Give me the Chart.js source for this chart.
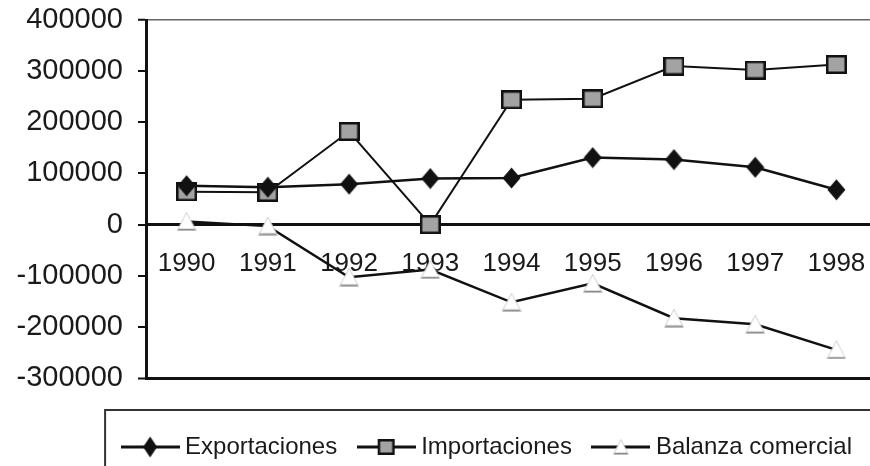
<!DOCTYPE html>
<html>
<head>
<meta charset="utf-8">
<script src="https://cdn.jsdelivr.net/npm/chart.js@4.4.1/dist/chart.umd.min.js"></script>
<style>
  html, body { margin: 0; padding: 0; background: #fff; overflow: hidden; width: 870px; height: 466px; }
  #wrap { position: absolute; left: 0; top: 0; width: 890px; height: 469px; }
</style>
</head>
<body>
<div id="wrap"><canvas id="c" width="890" height="469"></canvas></div>
<script>
// ---- data ----
const years = ['1990', '1991', '1992', '1993', '1994', '1995', '1996', '1997', '1998'];
const exportaciones = [76000, 73000, 79000, 90000, 91000, 131000, 127000, 112000, 68000];
const importaciones = [64000, 63000, 182000, 0, 244000, 246000, 310000, 302000, 313000];
const balanzaComercial = [6000, -3000, -103000, -88000, -152000, -115000, -183000, -195000, -245000];
const seriesNames = ['Exportaciones', 'Importaciones', 'Balanza comercial'];
const yTickValues = [-300000, -200000, -100000, 0, 100000, 200000, 300000, 400000];

// ---- marker images ----
function makeIcon(w, h, draw) {
  const c = document.createElement('canvas');
  c.width = w; c.height = h;
  draw(c.getContext('2d'), w, h);
  return c;
}
function drawDiamond(g, cx, cy, w, h) {
  g.beginPath();
  g.moveTo(cx, cy - h / 2); g.lineTo(cx + w / 2, cy);
  g.lineTo(cx, cy + h / 2); g.lineTo(cx - w / 2, cy);
  g.closePath();
  g.fillStyle = '#111'; g.fill();
}
function drawSquare(g, cx, cy, w, h) {
  g.fillStyle = '#a3a3a3';
  g.fillRect(cx - w / 2, cy - h / 2, w, h);
  g.lineWidth = 2.5; g.strokeStyle = '#111';
  g.strokeRect(cx - w / 2 + 1.25, cy - h / 2 + 1.25, w - 2.5, h - 2.5);
}
function drawTriangle(g, cx, cy, w, h) {
  g.beginPath();
  g.moveTo(cx, cy - h / 2); g.lineTo(cx + w / 2, cy + h / 2); g.lineTo(cx - w / 2, cy + h / 2);
  g.closePath();
  g.fillStyle = '#fff'; g.fill();
  g.lineWidth = 1; g.strokeStyle = '#cfcfcf'; g.stroke();
  g.beginPath();
  g.moveTo(cx - w / 2 + 1, cy + h / 2 - 1); g.lineTo(cx + w / 2 - 1, cy + h / 2 - 1);
  g.strokeStyle = '#888'; g.lineWidth = 1.5; g.stroke();
}
function legendLine(g, w, h) {
  g.beginPath(); g.moveTo(0, h / 2); g.lineTo(w, h / 2);
  g.strokeStyle = '#111'; g.lineWidth = 3; g.stroke();
}
const ptDiamond = makeIcon(19, 22, (g, w, h) => drawDiamond(g, w / 2, h / 2, 18, 21));
const ptSquare = makeIcon(21, 19, (g, w, h) => drawSquare(g, w / 2, h / 2, 21, 19));
const ptTriangle = makeIcon(20, 19, (g, w, h) => drawTriangle(g, w / 2, h / 2, 19, 18));
const lgDiamond = makeIcon(59, 24, (g, w, h) => { legendLine(g, w, h); drawDiamond(g, w / 2, h / 2, 14, 21); });
const lgSquare = makeIcon(59, 24, (g, w, h) => { legendLine(g, w, h); drawSquare(g, w / 2, h / 2, 17, 16); });
const lgTriangle = makeIcon(59, 24, (g, w, h) => { legendLine(g, w, h); drawTriangle(g, w / 2, h / 2, 15, 15); });
const legendIcons = [lgDiamond, lgSquare, lgTriangle];

// ---- plugins ----
const whiteBg = {
  id: 'whiteBg',
  beforeDraw(chart) {
    const ctx = chart.ctx;
    ctx.save(); ctx.fillStyle = '#fff'; ctx.fillRect(0, 0, chart.width, chart.height); ctx.restore();
  }
};
const legendFrame = {
  id: 'legendFrame',
  afterDraw(chart) {
    const lg = chart.legend, ctx = chart.ctx;
    const first = lg.legendHitBoxes && lg.legendHitBoxes[0];
    const left = first ? first.left - 22 : 106;
    const top = first ? first.top - 25 : lg.top + 42;
    ctx.save();
    ctx.strokeStyle = '#333'; ctx.lineWidth = 2;
    ctx.strokeRect(left, top, chart.width, chart.height);
    ctx.restore();
  }
};
function noPad(s) { s.paddingTop = 0; s.paddingBottom = 0; }

const txt = '#1a1a1a';
new Chart(document.getElementById('c'), {
  type: 'line',
  data: {
    labels: years,
    datasets: [
      { label: seriesNames[0], data: exportaciones, borderColor: '#111', backgroundColor: '#111',
        borderWidth: 2.5, pointStyle: ptDiamond, pointRadius: 8 },
      { label: seriesNames[1], data: importaciones, borderColor: '#111', backgroundColor: '#a3a3a3',
        borderWidth: 2, pointStyle: ptSquare, pointRadius: 8 },
      { label: seriesNames[2], data: balanzaComercial, borderColor: '#111', backgroundColor: '#fff',
        borderWidth: 2.5, pointStyle: ptTriangle, pointRadius: 8 }
    ]
  },
  options: {
    responsive: false,
    animation: false,
    devicePixelRatio: 1,
    layout: { padding: { left: 0, right: 12, top: 20, bottom: 0 } },
    elements: { line: { tension: 0, fill: false } },
    scales: {
      x: {
        type: 'category',
        offset: true,
        position: { y: 0 },
        afterFit: noPad,
        grid: { display: true, drawOnChartArea: false, drawTicks: false },
        border: { display: true, color: '#111', width: 3 },
        ticks: { font: { family: 'Liberation Sans', size: 26 }, color: txt, padding: 24,
                 maxRotation: 0, autoSkip: false }
      },
      y: {
        min: -300000, max: 400000,
        position: 'left',
        afterFit(s) { s.width = 146; noPad(s); },
        afterBuildTicks(s) { s.ticks = yTickValues.map(v => ({ value: v })); },
        ticks: { font: { family: 'Liberation Sans', size: 29 }, color: txt, padding: 15,
                 callback: v => String(v) },
        grid: {
          drawOnChartArea: true,
          color: c => c.tick && c.tick.value === 400000 ? '#666' : (c.tick && c.tick.value === -300000 ? '#111' : 'rgba(0,0,0,0)'),
          lineWidth: c => c.tick && c.tick.value === 400000 ? 1.5 : (c.tick && c.tick.value === -300000 ? 3 : 0),
          tickLength: 8, tickColor: '#111', tickWidth: 2
        },
        border: { display: true, color: '#111', width: 3 }
      }
    },
    plugins: {
      tooltip: { enabled: false },
      legend: {
        position: 'bottom',
        align: 'end',
        title: { display: true, text: ' ', font: { size: 10 }, padding: { top: 8, bottom: 11 } },
        labels: {
          usePointStyle: true,
          pointStyleWidth: 46,
          padding: 26,
          color: txt,
          font: { family: 'Liberation Sans', size: 24 },
          generateLabels(chart) {
            const items = Chart.defaults.plugins.legend.labels.generateLabels(chart);
            items.forEach((it, i) => { it.pointStyle = legendIcons[i]; });
            return items;
          }
        }
      }
    }
  },
  plugins: [whiteBg, legendFrame]
});
</script>
</body>
</html>
